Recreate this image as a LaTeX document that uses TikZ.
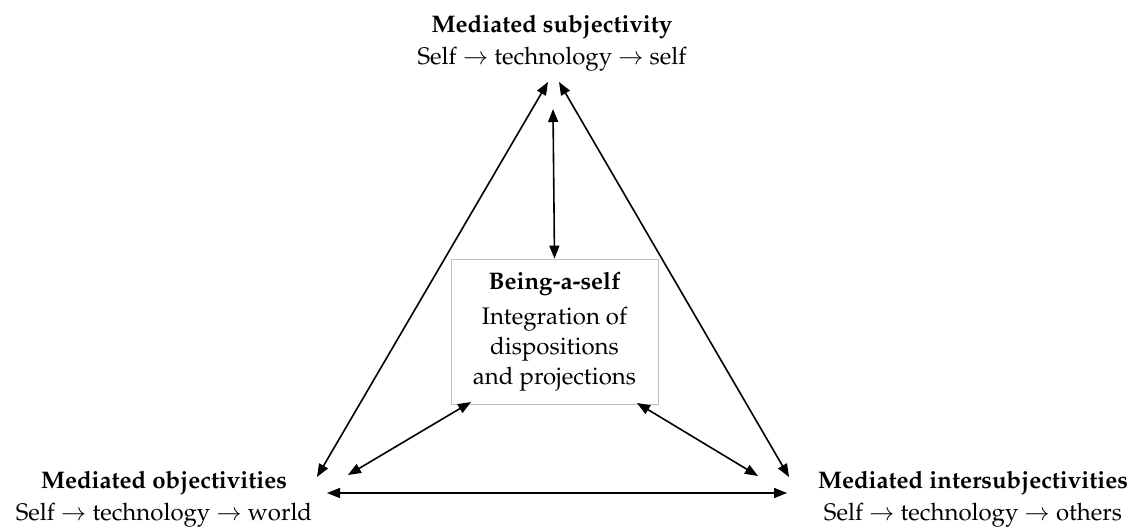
\documentclass[tikz,border=0pt]{standalone}
\usepackage[T1]{fontenc}
\usepackage{mathpazo}
\usetikzlibrary{arrows.meta}
\begin{document}
\begin{tikzpicture}[x=1pt,y=-1pt,
  lbl/.style={align=center,font=\fontsize{24}{32}\selectfont,inner sep=0pt},
  centerbox/.style={draw=black!25,line width=0.8pt,minimum width=207pt,minimum height=145pt,align=center,inner sep=0pt,font=\fontsize{24}{30}\selectfont},
  conn/.style={{Triangle[length=13pt,width=10pt]}-{Triangle[length=13pt,width=10pt]},line width=1.6pt}]
\useasboundingbox (0,0) rectangle (1140,528);
\node[lbl] (subj) at (552,43) {\textbf{Mediated subjectivity}\\Self $\rightarrow$ technology $\rightarrow$ self};
\node[lbl] (obj) at (164,499) {\textbf{Mediated objectivities}\\Self $\rightarrow$ technology $\rightarrow$ world};
\node[lbl] (inter) at (973,499) {\textbf{Mediated intersubjectivities}\\Self $\rightarrow$ technology $\rightarrow$ others};
\node[centerbox] (being) at (554.5,331.5) {\textbf{Being-a-self}\\[5pt]Integration of\\dispositions\\and projections};
% connector end points
\coordinate (sL) at (548,82);
\coordinate (sR) at (559,82);
\coordinate (sM) at (553,109);
\coordinate (oT) at (317,477);
\coordinate (oI) at (348,475);
\coordinate (oH) at (327,493);
\coordinate (iT) at (789,477);
\coordinate (iI) at (758,476);
\coordinate (iH) at (787,493);
\coordinate (bL) at (471,402);
\coordinate (bR) at (637,403);
\draw[conn] (oT) -- (sL);
\draw[conn] (iT) -- (sR);
\draw[conn] (sM) -- (being.north);
\draw[conn] (oH) -- (iH);
\draw[conn] (oI) -- (bL);
\draw[conn] (iI) -- (bR);
\end{tikzpicture}
\end{document}
